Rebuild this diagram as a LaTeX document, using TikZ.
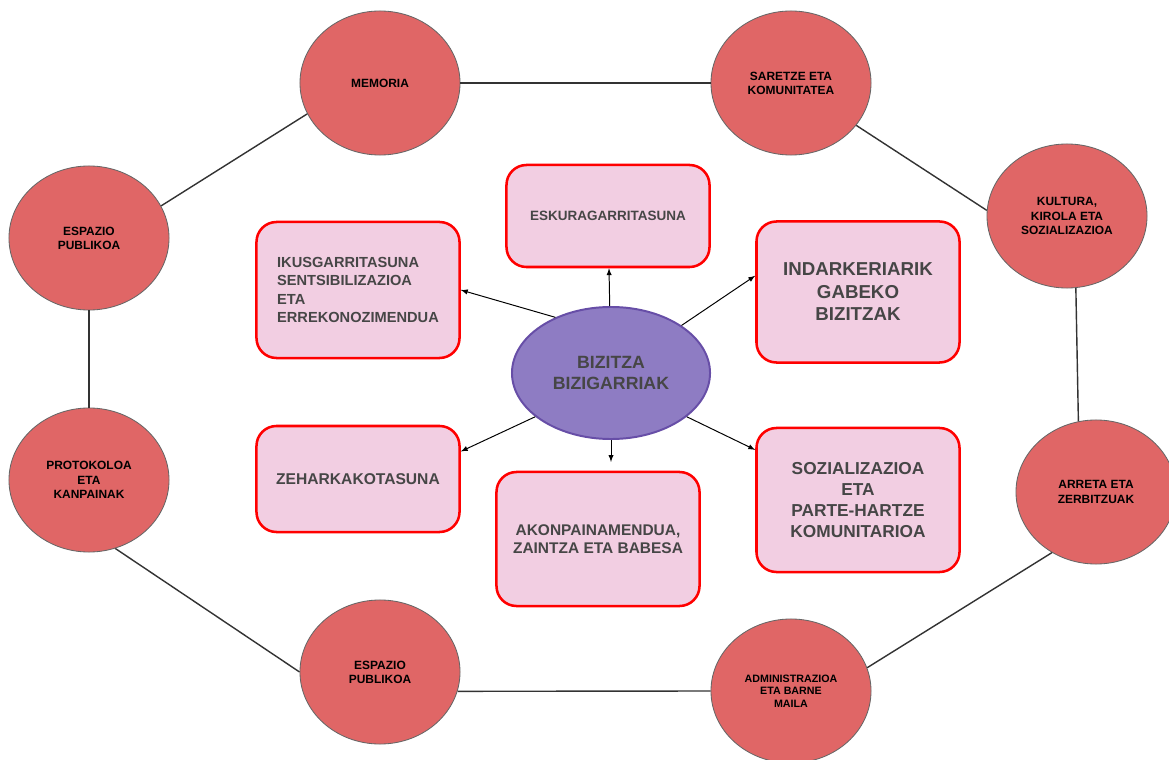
\documentclass[tikz,border=0pt]{standalone}
\usepackage{fontspec}
\setmainfont{Liberation Sans}
\usepackage{tikz}
\usetikzlibrary{shapes.geometric}

\definecolor{circred}{RGB}{224,102,102}
\definecolor{boxpink}{RGB}{242,206,226}
\definecolor{boxred}{RGB}{255,0,0}
\definecolor{corefill}{RGB}{142,124,195}
\definecolor{coreline}{RGB}{103,78,167}
\definecolor{textgray}{RGB}{70,70,70}

\tikzset{
  topic/.style={ellipse, draw=black!60, line width=0.6pt, fill=circred,
    minimum width=4cm, minimum height=3.6cm, inner sep=0pt, align=center,
    font=\bfseries\fontsize{8.5}{10.1}\selectfont},
  field/.style={draw=boxred, line width=1.8pt, fill=boxpink, rounded corners=0.5cm,
    minimum width=5.075cm, inner sep=0pt, align=center, text=textgray},
  core/.style={ellipse, draw=coreline, line width=1.4pt, fill=corefill,
    minimum width=4.95cm, minimum height=3.3cm, inner sep=0pt, align=center, text=textgray,
    font=\bfseries\fontsize{12.6}{15.4}\selectfont},
  ring/.style={draw=black!80, line width=1pt},
  spoke/.style={->, >=latex, draw=black, line width=0.7pt}
}

\begin{document}
\begin{tikzpicture}[x=0.025cm, y=-0.025cm]
    \path[use as bounding box, fill=white] (0,0) rectangle (1169,760);

        % outer circles
        \node[topic] (mem) at (380,83) {MEMORIA};
        \node[topic] (sar) at (791,83) {SARETZE ETA\\KOMUNITATEA};
        \node[topic] (kul) at (1067,216) {KULTURA,\\KIROLA ETA\\SOZIALIZAZIOA};
        \node[topic] (arr) at (1096,492) {ARRETA ETA\\ZERBITZUAK};
        \node[topic, font=\bfseries\fontsize{7.6}{9}\selectfont] (adm) at (791,691) {ADMINISTRAZIOA\\ETA BARNE\\MAILA};
        \node[topic] (esp2) at (380,672) {ESPAZIO\\PUBLIKOA};
        \node[topic] (prot) at (89,480) {PROTOKOLOA\\ETA\\KANPAINAK};
        \node[topic] (esp1) at (89,238) {ESPAZIO\\PUBLIKOA};

        % ring
        \draw[ring] (mem.east) -- (sar.west);
        \draw[ring] (sar.-33) -- (kul.176);
        \draw[ring] (kul.-83) -- (arr.104);
        \draw[ring] (arr.234) -- (adm.17);
        \draw[ring] (adm.west) -- (esp2.-14);
        \draw[ring] (esp2.west) -- (prot.-69);
        \draw[ring] (prot.north) -- (esp1.south);
        \draw[ring] (esp1.24) -- (mem.203);

        % centre
        \node[core] (biz) at (611,373) {BIZITZA\\BIZIGARRIAK};

        % boxes
        \node[field, minimum height=2.55cm, font=\bfseries\fontsize{9.6}{11.5}\selectfont] (esku) at (608,216) {ESKURAGARRITASUNA};
        \node[field, minimum height=3.4cm, align=left, font=\bfseries\fontsize{10.4}{13}\selectfont] (ikus) at (358,290) {IKUSGARRITASUNA\\SENTSIBILIZAZIOA\\ETA\\ERREKONOZIMENDUA};
        \node[field, minimum height=3.525cm, font=\bfseries\fontsize{13.3}{16}\selectfont] (indar) at (858,292) {INDARKERIARIK\\GABEKO\\BIZITZAK};
        \node[field, minimum height=2.65cm, font=\bfseries\fontsize{11.1}{13}\selectfont] (zeh) at (358,479) {ZEHARKAKOTASUNA};
        \node[field, minimum height=3.35cm, font=\bfseries\fontsize{11}{13}\selectfont] (akon) at (598,539) {AKONPAINAMENDUA,\\ZAINTZA ETA BABESA};
        \node[field, minimum height=3.6cm, font=\bfseries\fontsize{12.3}{15.1}\selectfont] (soz) at (858,500) {SOZIALIZAZIOA\\ETA\\PARTE-HARTZE\\KOMUNITARIOA};

        % arrows
        \draw[spoke] (biz) -- (esku);
        \draw[spoke] (biz.135) -- (ikus.east);
        \draw[spoke] (biz.34) -- (indar.171);
        \draw[spoke] (biz.210) -- (zeh.15);
        \draw[spoke, shorten >=0.22cm] (biz.south) -- (biz.south |- akon.north);
        \draw[spoke] (biz.330) -- (soz.154);
\end{tikzpicture}
\end{document}
